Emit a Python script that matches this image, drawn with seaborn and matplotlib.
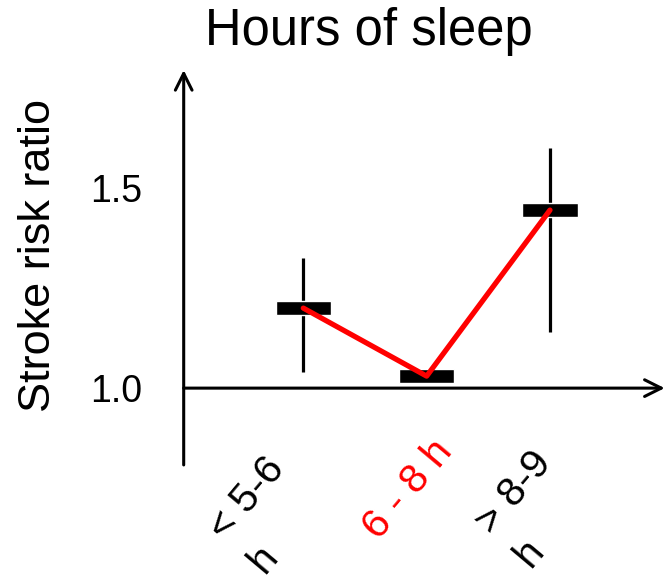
import matplotlib
matplotlib.use("Agg")
import matplotlib.pyplot as plt
import matplotlib.transforms as mtransforms
import seaborn as sns
import numpy as np
import pandas as pd

categories = ["< 5-6\nh", "6 - 8 h", "> 8-9\nh"]
label_colors = ["black", "red", "black"]
risk = [1.20, 1.03, 1.445]
ci_low = [1.04, 1.02, 1.14]
ci_high = [1.325, 1.04, 1.60]

sns.set_theme(style="white")
plt.rcParams['font.family'] = ['Liberation Sans', 'DejaVu Sans']
plt.rcParams['text.color'] = 'black'
plt.rcParams['axes.labelcolor'] = 'black'
plt.rcParams['xtick.color'] = 'black'
plt.rcParams['ytick.color'] = 'black'

W, H = 668, 579
fig = plt.figure(figsize=(6.68, 5.79), dpi=100)
ax = fig.add_axes([0.275, 0.197, 0.72, 0.682])

x = np.arange(len(categories))
df = pd.DataFrame({"x": x, "risk": risk})

# error bars
ax.vlines(x, ci_low, ci_high, color="black", lw=2.3, zorder=2)
# black boxes
ax.bar(x, 0.034, bottom=np.array(risk) - 0.017, width=0.45, color="black", zorder=3)
# red connecting line
sns.lineplot(data=df, x="x", y="risk", color="red", lw=3.8, ax=ax, zorder=4)

ax.set_xlim(-0.97, 2.93)
ax.set_ylim(0.808, 1.795)

for s in ["top", "right", "bottom", "left"]:
    ax.spines[s].set_visible(False)

# axes with arrows
ax.annotate("", xy=(0, 1.0), xytext=(0, 0.0), xycoords="axes fraction",
            arrowprops=dict(arrowstyle="->", lw=2.2, color="black",
                            mutation_scale=30, shrinkA=0, shrinkB=0))
ax.annotate("", xy=(1.0, 1.0), xytext=(0.0, 1.0),
            xycoords=("axes fraction", "data"),
            arrowprops=dict(arrowstyle="->", lw=2.2, color="black",
                            mutation_scale=30, shrinkA=0, shrinkB=0))

ax.set_yticks([1.0, 1.5])
ax.set_yticklabels(["1.0", "1.5"], fontsize=27)
ax.tick_params(axis="y", length=0, pad=30)
ax.set_xticks(x)
ax.set_xticklabels(categories, fontsize=29.5, rotation=50, ha="center",
                   va="center", rotation_mode="anchor", linespacing=1.42)
ax.tick_params(axis="x", length=0, pad=0)
label_offsets_pt = [(-26.6, -36.0), (-13.7, -18.0), (-12.2, -32.0)]
for t, c, (dx, dy) in zip(ax.get_xticklabels(), label_colors, label_offsets_pt):
    t.set_color(c)
    t.set_multialignment("left")
    t.set_transform(t.get_transform() +
                    mtransforms.ScaledTranslation(dx / 72, dy / 72, fig.dpi_scale_trans))

ax.set_xlabel("")
ax.set_ylabel("")
fig.text(39 / W, 1 - 255 / H, "Stroke risk ratio", fontsize=32.5,
         rotation=90, ha="center", va="center")
fig.text(369 / W, 1 - 45 / H, "Hours of sleep", fontsize=36.5,
         ha="center", va="baseline")

fig.savefig("out.png", dpi=100)
